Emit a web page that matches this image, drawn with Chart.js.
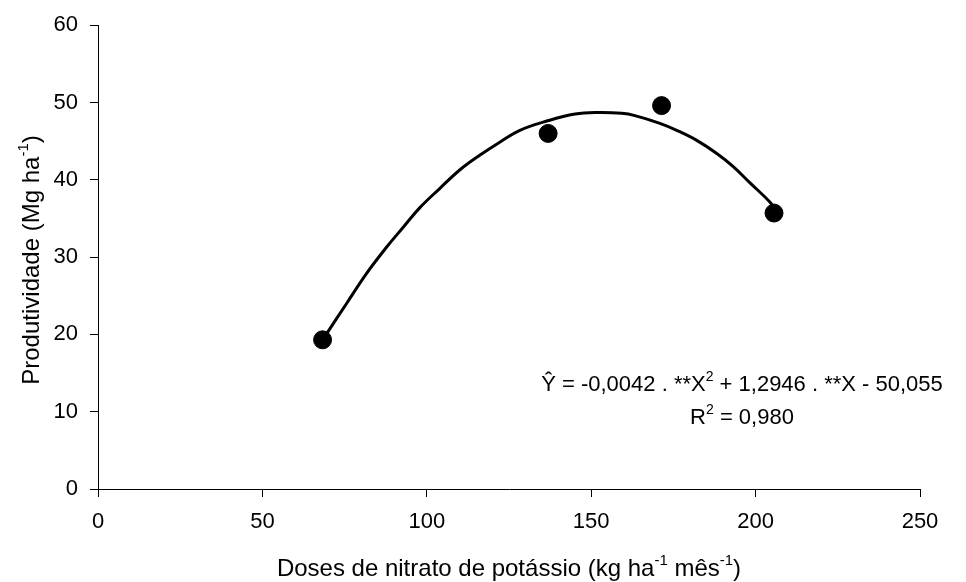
<!DOCTYPE html>
<html>
<head>
<meta charset="utf-8">
<script src="https://cdn.jsdelivr.net/npm/chart.js@4"></script>
<style>
  html, body { margin: 0; padding: 0; background: #fff; }
  #wrap { width: 966px; height: 582px; position: relative; }
</style>
</head>
<body>
<div id="wrap"><canvas id="chart"></canvas></div>
<script>
// observed points
const doseX = [68.3, 136.9, 171.4, 205.6];
const prodY = [19.3, 46.0, 49.6, 35.7];

// fitted curve
const curveX = [68.6, 70.0, 75.6, 81.7, 87.8, 92.9, 97.9, 104.0, 110.1, 116.2, 122.3, 128.3, 136.5, 145.1, 152.0, 159.3, 163.3, 170.9, 176.0, 182.1, 188.2, 193.2, 198.3, 204.4, 205.6];
const curveY = [19.5, 20.4, 24.0, 27.9, 31.3, 33.9, 36.4, 38.9, 41.3, 43.2, 44.9, 46.4, 47.6, 48.5, 48.7, 48.6, 48.3, 47.3, 46.4, 45.1, 43.4, 41.7, 39.6, 37.1, 36.3];

const xTicks = [0, 50, 100, 150, 200, 250];
const yTicks = [0, 10, 20, 30, 40, 50, 60];

const FONT = '"Liberation Sans", Arial, sans-serif';

// draws a run of [text, isSup] pieces starting at x
function drawRich(ctx, parts, x, y, size) {
    let cx = x;
    parts.forEach(p => {
        const sup = p[1];
        ctx.font = (sup ? Math.round(size * 0.62) : size) + 'px ' + FONT;
        ctx.fillText(p[0], cx, sup ? y - size * 0.36 : y);
        cx += ctx.measureText(p[0]).width;
    });
    return cx - x;
}
function richWidth(ctx, parts, size) {
    let w = 0;
    parts.forEach(p => {
        ctx.font = (p[1] ? Math.round(size * 0.62) : size) + 'px ' + FONT;
        w += ctx.measureText(p[0]).width;
    });
    return w;
}

const textPlugin = {
    id: 'texts',
    afterDraw(chart) {
        const ctx = chart.ctx;
        ctx.save();
        ctx.fillStyle = '#000';
        ctx.textBaseline = 'middle';
        ctx.textAlign = 'left';

        const xt = [['Doses de nitrato de potássio (kg ha', 0], ['-1', 1], [' mês', 0], ['-1', 1], [')', 0]];
        let w = richWidth(ctx, xt, 24);
        drawRich(ctx, xt, 509 - w / 2, 569, 24);

        const yt = [['Produtividade (Mg ha', 0], ['-1', 1], [')', 0]];
        w = richWidth(ctx, yt, 24);
        ctx.save();
        ctx.translate(32, 260);
        ctx.rotate(-Math.PI / 2);
        drawRich(ctx, yt, -w / 2, 0, 24);
        ctx.restore();

        // equation block, lines centred on each other
        const eq = [['Ŷ = -0,0042 . **X', 0], ['2', 1], [' + 1,2946 . **X - 50,055', 0]];
        w = richWidth(ctx, eq, 22);
        drawRich(ctx, eq, 742 - w / 2, 385, 22);
        const r2 = [['R', 0], ['2', 1], [' = 0,980', 0]];
        w = richWidth(ctx, r2, 22);
        drawRich(ctx, r2, 742 - w / 2, 418, 22);
        ctx.restore();
    }
};

new Chart(document.getElementById('chart'), {
    data: {
        datasets: [{
            type: 'line',
            data: curveX.map((x, i) => ({ x: x, y: curveY[i] })),
            borderColor: '#000',
            borderWidth: 3,
            pointRadius: 0,
            tension: 0.4,
            fill: false,
            order: 2
        }, {
            type: 'scatter',
            data: doseX.map((x, i) => ({ x: x, y: prodY[i] })),
            backgroundColor: '#000',
            borderColor: '#000',
            pointRadius: 9,
            order: 1
        }]
    },
    options: {
        responsive: true,
        maintainAspectRatio: false,
        animation: false,
        layout: { padding: { top: 25, right: 46, left: 0, bottom: 0 } },
        plugins: { legend: { display: false }, tooltip: { enabled: false } },
        scales: {
            x: {
                type: 'linear',
                min: 0, max: 250,
                afterBuildTicks: s => { s.ticks = xTicks.map(v => ({ value: v })); },
                afterFit: s => { s.height = 93; },
                grid: { drawOnChartArea: false, color: '#000', tickLength: 8 },
                border: { color: '#000', width: 1 },
                ticks: { color: '#000', font: { family: FONT, size: 22 }, padding: 12, maxRotation: 0 }
            },
            y: {
                min: 0, max: 60,
                afterBuildTicks: s => { s.ticks = yTicks.map(v => ({ value: v })); },
                afterFit: s => { s.width = 98; },
                grid: { drawOnChartArea: false, color: '#000', tickLength: 8 },
                border: { color: '#000', width: 1 },
                ticks: { color: '#000', font: { family: FONT, size: 22 }, padding: 12 }
            }
        }
    },
    plugins: [textPlugin]
});
</script>
</body>
</html>
